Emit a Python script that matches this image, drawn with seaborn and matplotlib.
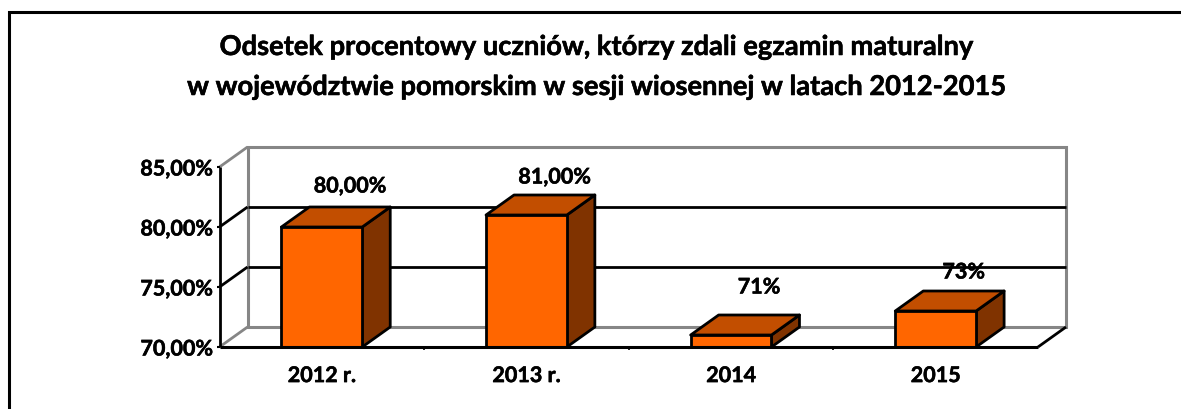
#!/usr/bin/env python3
import matplotlib
matplotlib.use('Agg')
import matplotlib.pyplot as plt
import matplotlib.patheffects as pe
from matplotlib.patches import Polygon
from matplotlib.lines import Line2D
import pandas as pd
import seaborn as sns

categories = ['2012 r.', '2013 r.', '2014', '2015']
values = [80, 81, 71, 73]
value_labels = ['80,00%', '81,00%', '71%', '73%']
y_ticks = [70, 75, 80, 85]
y_tick_labels = ['70,00%', '75,00%', '80,00%', '85,00%']
title_lines = ['Odsetek procentowy uczniów, którzy zdali egzamin maturalny',
               'w województwie pomorskim w sesji wiosennej w latach 2012-2015']

W, H = 1181, 410
FRONT = '#FF6600'
TOP = '#C24E00'
SIDE = '#803300'
GREY = '#868686'
# odstep etykiety od wierzchu slupka (px)
LABEL_GAP = [41, 38, 48, 39]
# lekkie pogrubienie napisow
HEAVY = [pe.withStroke(linewidth=0.4, foreground='black')]

sns.set_theme(style='white')
plt.rcParams['font.family'] = ['Lato', 'DejaVu Sans']
plt.rcParams['font.weight'] = 'bold'

fig = plt.figure(figsize=(W / 100, H / 100), dpi=100)
ax = fig.add_axes([219.5 / W, 1 - 348 / H, 818.5 / W, 180 / H])

df = pd.DataFrame({'rok': categories, 'odsetek': values})
sns.barplot(data=df, x='rok', y='odsetek', color=FRONT, saturation=1, width=0.395,
            edgecolor='black', linewidth=2, ax=ax, zorder=5)
ax.set_xlim(-0.5, 3.5)
ax.set_ylim(70, 85)

# glebokosc "3D" w jednostkach danych
dx = 28 / 204.6
dy = 20 / 12


def line(xs, ys, color='black', lw=2, z=2):
    ax.add_line(Line2D(xs, ys, color=color, lw=lw, zorder=z, clip_on=False,
                       solid_capstyle='butt'))


x0, x1 = ax.get_xlim()

# sciana tylna
ax.add_patch(Polygon([(x0 + dx, 70 + dy), (x1 + dx, 70 + dy), (x1 + dx, 85 + dy), (x0 + dx, 85 + dy)],
                     closed=True, fill=False, edgecolor=GREY, lw=2.2, clip_on=False, zorder=1))

# siatka i sciana boczna
for t in y_ticks:
    color = GREY if t in (70, 85) else 'black'
    line([x0, x0 + dx], [t, t + dy], color=color)
    if t in (75, 80):
        line([x0 + dx, x1 + dx], [t + dy, t + dy])
    line([x0 - 3 / 205, x0], [t, t], lw=1.5)

# podloga i osie
line([x0, x0], [70, 85], z=3)
line([x0, x1], [70, 70], lw=2.2, z=8)
line([x1, x1 + dx], [70, 70 + dy], lw=2, z=3)
for k in (0.5, 1.5, 2.5):
    line([k, k], [70, 70 - 0.25], lw=1.2, z=3)

# boki i wierzch slupkow
for bar, val, lab, gap in zip(ax.patches, values, value_labels, LABEL_GAP):
    xl = bar.get_x()
    xr = xl + bar.get_width()
    ax.add_patch(Polygon([(xr, 70), (xr + dx, 70 + dy), (xr + dx, val + dy), (xr, val)], closed=True,
                         facecolor=SIDE, edgecolor='black', lw=2, clip_on=False, zorder=4,
                         joinstyle='round'))
    ax.add_patch(Polygon([(xl, val), (xl + dx, val + dy), (xr + dx, val + dy), (xr, val)], closed=True,
                         facecolor=TOP, edgecolor='black', lw=2, clip_on=False, zorder=4,
                         joinstyle='round'))
    ax.annotate(lab, xy=((xl + xr) / 2 + dx, val), xytext=(0, gap * 0.72), textcoords='offset points',
                ha='center', va='center', fontsize=15.5, fontweight='bold', color='black',
                zorder=9, annotation_clip=False, path_effects=HEAVY)

ax.set_xlabel('')
ax.set_ylabel('')
ax.set_xticks(range(len(categories)))
ax.set_xticklabels(categories, fontsize=15.5, fontweight='bold', color='black', path_effects=HEAVY)
ax.set_yticks(y_ticks)
ax.set_yticklabels(y_tick_labels, fontsize=15.5, fontweight='bold', color='black', path_effects=HEAVY)
ax.tick_params(axis='x', length=0, pad=13)
ax.tick_params(axis='y', length=0, pad=5)
for s in ax.spines.values():
    s.set_visible(False)

# ramka wykresu: tylko gora i lewa strona mieszcza sie w kadrze
fig.add_artist(Line2D([9.5 / W, 9.5 / W, 1], [0, 1 - 13 / H, 1 - 13 / H], transform=fig.transFigure,
                      color='black', lw=2.2, solid_joinstyle='miter'))

for txt, y_px in zip(title_lines, (48, 88)):
    fig.text(595 / W, 1 - y_px / H, txt, ha='center', va='center', fontsize=19.65, fontweight='bold',
             color='black', path_effects=HEAVY)

fig.savefig('out.png', dpi=100, facecolor='white')
